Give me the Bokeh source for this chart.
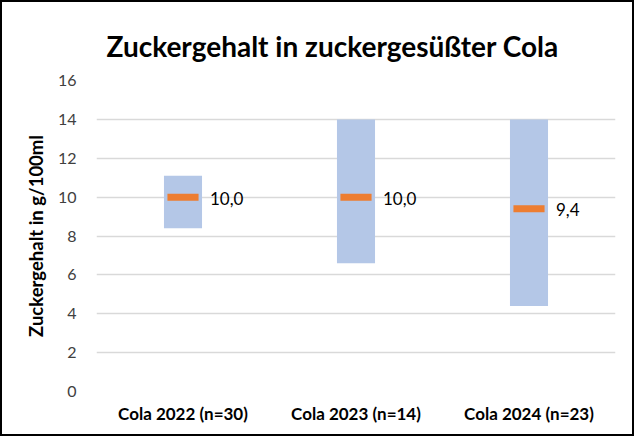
from bokeh.plotting import figure
from bokeh.models import ColumnDataSource, FactorRange, Range1d, FixedTicker
from bokeh.core.properties import value
from bokeh.embed import file_html
from bokeh.resources import INLINE

categories = ["Cola 2022 (n=30)", "Cola 2023 (n=14)", "Cola 2024 (n=23)"]
low_values = [8.4, 6.6, 4.4]
high_values = [11.1, 14.0, 14.0]
mean_values = [10.0, 10.0, 9.4]
mean_labels = ["10,0", "10,0", "9,4"]
y_ticks = [0, 2, 4, 6, 8, 10, 12, 14, 16]

FONT = "Lato"

src = ColumnDataSource(dict(cat=categories, low=low_values, high=high_values,
                            mean=mean_values, lab=mean_labels))

p = figure(width=634, height=436, x_range=FactorRange(*categories),
           y_range=Range1d(0, 16), output_backend="svg", toolbar_location=None,
           title="Zuckergehalt in zuckergesüßter Cola",
           min_border_left=94, min_border_right=21, min_border_top=78, min_border_bottom=47)
p.styles = {"border": "2px solid black"}
p.outline_line_color = None
p.background_fill_color = "white"
p.border_fill_color = "white"

p.title.text_font = FONT
p.title.text_font_size = "28px"
p.title.text_font_style = "bold"
p.title.align = "left"
p.title.offset = 10
p.title.text_color = "black"
p.title.standoff = 36

p.vbar(x="cat", bottom="low", top="high", width=0.22, source=src,
       fill_color="#B4C7E7", line_color=None)
p.rect(x="cat", y="mean", width=0.18, height=7, height_units="screen", source=src,
       fill_color="#ED7D31", line_color=None)
p.text(x="cat", y="mean", text="lab", source=src, x_offset=27, y_offset=1,
       text_font=value(FONT), text_font_size="17px", text_color="black",
       text_baseline="middle", text_align="left")

p.xgrid.grid_line_color = None
p.ygrid.grid_line_color = "#D9D9D9"
p.ygrid.grid_line_width = 1.5
p.yaxis.ticker = FixedTicker(ticks=y_ticks)
p.yaxis.axis_line_color = None
p.yaxis.major_tick_line_color = None
p.yaxis.minor_tick_line_color = None
p.yaxis.major_label_text_font = FONT
p.yaxis.major_label_text_font_size = "16px"
p.yaxis.major_label_text_color = "#404040"
p.yaxis.major_label_standoff = 14
p.yaxis.axis_label = "Zuckergehalt in g/100ml"
p.yaxis.axis_label_text_font = FONT
p.yaxis.axis_label_text_font_size = "18.5px"
p.yaxis.axis_label_text_font_style = "bold"
p.yaxis.axis_label_text_color = "black"
p.yaxis.axis_label_standoff = 8

p.xaxis.axis_line_color = None
p.xaxis.major_tick_line_color = None
p.xaxis.major_label_text_font = FONT
p.xaxis.major_label_text_font_size = "17px"
p.xaxis.major_label_text_font_style = "bold"
p.xaxis.major_label_text_color = "black"
p.xaxis.major_label_standoff = 5

open("out.html", "w").write(file_html(p, INLINE))
